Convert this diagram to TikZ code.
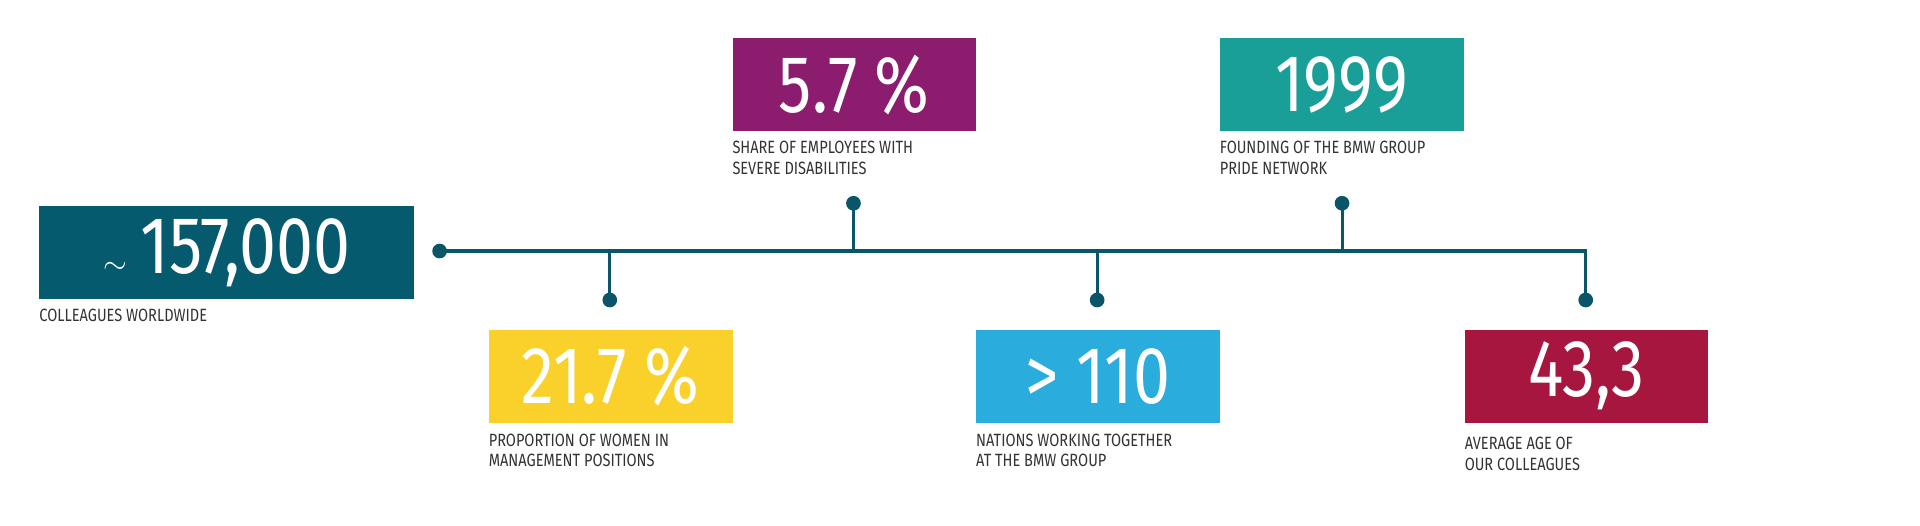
\documentclass[tikz,border=0pt]{standalone}
\usepackage{fontspec}
\setmainfont{Fira Sans}[FakeStretch=0.82]
\definecolor{c1}{HTML}{055A6E}
\definecolor{c2}{HTML}{8B1C6E}
\definecolor{c3}{HTML}{1A9E98}
\definecolor{c4}{HTML}{F9D12A}
\definecolor{c5}{HTML}{2AACDC}
\definecolor{c6}{HTML}{A6163F}
\definecolor{ln}{HTML}{0B5568}
\definecolor{tx}{HTML}{333333}
\begin{document}
\begin{tikzpicture}[x=1pt,y=-1pt,
  box/.style={fill=#1,minimum width=199pt,minimum height=76pt,anchor=north west,inner sep=0pt,text=white,font=\fontsize{66}{66}\selectfont},
  lab/.style={anchor=north west,inner sep=0pt,align=left,text=tx,font=\fontsize{14.5}{17}\selectfont},
  dotc/.style={circle,fill=ln,minimum size=12pt,inner sep=0pt},
  ln/.style={draw=ln,line width=2.5pt}]
\useasboundingbox (0,0) rectangle (1568,429);
\node[box=c1,minimum width=306pt] (b1) at (32,168) {$\sim$\,157,000};
\node[lab] (l1) at (32,252) {COLLEAGUES WORLDWIDE};
\node[box=c4] (b2) at (399,269) {21.7 \%};
\node[lab] (l2) at (399,354) {PROPORTION OF WOMEN IN\\MANAGEMENT POSITIONS};
\node[box=c2] (b3) at (598,31) {5.7 \%};
\node[lab] (l3) at (598,115) {SHARE OF EMPLOYEES WITH\\SEVERE DISABILITIES};
\node[box=c5] (b4) at (797,269) {> 110};
\node[lab] (l4) at (797,354) {NATIONS WORKING TOGETHER\\AT THE BMW GROUP};
\node[box=c3] (b5) at (996,31) {1999};
\node[lab] (l5) at (996,115) {FOUNDING OF THE BMW GROUP\\PRIDE NETWORK};
\node[box=c6] (b6) at (1196,269) {43,3};
\node[lab] (l6) at (1196,357) {AVERAGE AGE OF\\OUR COLLEAGUES};
\node[dotc] (d0) at (359,205) {};
\node[dotc] (d1) at (498,245) {};
\node[dotc] (d2) at (697,166) {};
\node[dotc] (d3) at (896,245) {};
\node[dotc] (d4) at (1096,166) {};
\node[dotc] (d5) at (1295,245) {};
\coordinate (e) at (1295,205);
\draw[ln] (d0.center) -- (e) -- (d5.center);
\draw[ln] (d1.center) -- (d1.center |- e);
\draw[ln] (d2.center) -- (d2.center |- e);
\draw[ln] (d3.center) -- (d3.center |- e);
\draw[ln] (d4.center) -- (d4.center |- e);
\end{tikzpicture}
\end{document}
